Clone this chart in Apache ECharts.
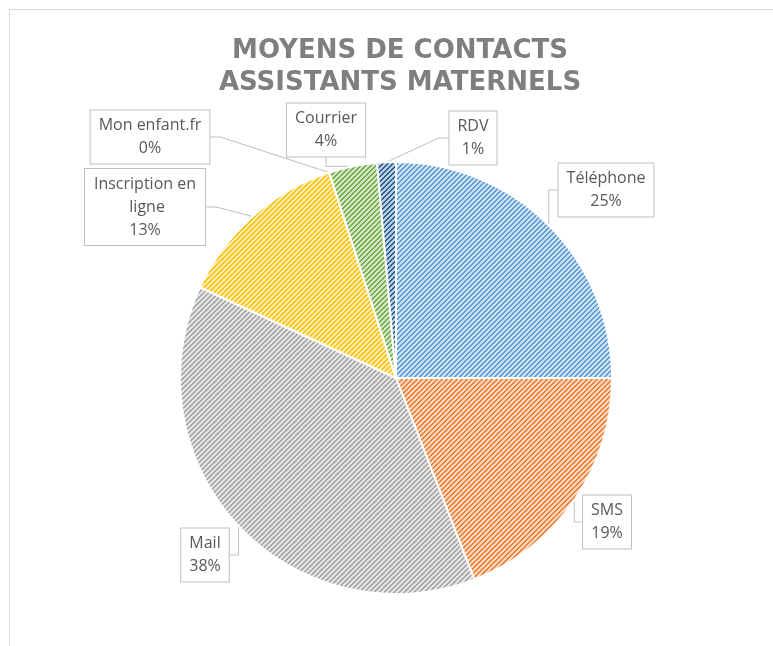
<!DOCTYPE html>
<html>
<head>
<meta charset="utf-8">
<script src="https://cdn.jsdelivr.net/npm/echarts@6/dist/echarts.min.js"></script>
<style>
html,body{margin:0;padding:0;background:#fff;}
#chart{width:773px;height:646px;}
</style>
</head>
<body>
<div id="chart"></div>
<script>
const categories = ['Téléphone', 'SMS', 'Mail', 'Inscription en ligne', 'Mon enfant.fr', 'Courrier', 'RDV'];
const values = [25, 19.1, 37.8, 13.1, 0, 3.6, 1.4];
const colors = ['#5B9BD5', '#ED7D31', '#A5A5A5', '#FFC000', '#4472C4', '#70AD47', '#255E91'];
const titleText = 'MOYENS DE CONTACTS\nASSISTANTS MATERNELS';

function hexToRgb(h) {
  const n = parseInt(h.slice(1), 16);
  return [(n >> 16) & 255, (n >> 8) & 255, n & 255];
}
function makePattern(hex) {
  const N = 5;
  const c = document.createElement('canvas');
  c.width = N; c.height = N;
  const ctx = c.getContext('2d');
  const img = ctx.createImageData(N, N);
  const rgb = hexToRgb(hex);
  const light = rgb.map(v => Math.round(v + (255 - v) * 0.68));
  for (let y = 0; y < N; y++) {
    for (let x = 0; x < N; x++) {
      const dark = ((x + y) % N) < 2;
      const col = dark ? rgb : light;
      const i = (y * N + x) * 4;
      img.data[i] = col[0]; img.data[i + 1] = col[1]; img.data[i + 2] = col[2]; img.data[i + 3] = 255;
    }
  }
  ctx.putImageData(img, 0, 0);
  return { image: c, repeat: 'repeat' };
}

// label centres (layout only)
const labelPos = [[606, 190], [607, 522], [205, 555], [145, 207], [150, 137], [326, 130], [473, 138]];

const data = categories.map((name, i) => {
  const item = { name: name, value: values[i], itemStyle: { color: makePattern(colors[i]) } };
  if (i === 3) item.label = { width: 104, overflow: 'break' };
  return item;
});

const chart = echarts.init(document.getElementById('chart'), null, { renderer: 'canvas' });
chart.setOption({
  animation: false,
  backgroundColor: '#ffffff',
  title: {
    text: titleText,
    left: 395,
    top: 30,
    textAlign: 'center',
    textStyle: {
      fontFamily: 'DejaVu Sans',
      fontWeight: 'bold',
      fontSize: 26,
      color: '#7f7f7f',
      lineHeight: 32
    }
  },
  graphic: [{
    type: 'rect',
    shape: { x: 9.5, y: 9.5, width: 1000, height: 1000 },
    style: { fill: 'none', stroke: '#d9d9d9', lineWidth: 1 },
    silent: true,
    z: -10
  }],
  series: [{
    type: 'pie',
    center: [396, 378],
    radius: 216,
    startAngle: 90,
    clockwise: true,
    avoidLabelOverlap: false,
    data: data,
    itemStyle: { borderColor: '#ffffff', borderWidth: 2 },
    label: {
      show: true,
      position: 'outside',
      formatter: p => p.name + '\n' + Math.round(p.percent) + '%',
      fontFamily: 'Open Sans',
      fontSize: 16,
      lineHeight: 23,
      color: '#595959',
      align: 'center',
      backgroundColor: '#ffffff',
      borderColor: '#bfbfbf',
      borderWidth: 1,
      padding: [4, 8, 3, 8]
    },
    labelLine: {
      show: true,
      length: 10,
      length2: 10,
      lineStyle: { color: '#bfbfbf', width: 1 }
    },
    labelLayout: function (params) {
      const p = labelPos[params.dataIndex];
      return { x: p[0], y: p[1], align: 'center', verticalAlign: 'middle' };
    }
  }]
});
</script>
</body>
</html>
